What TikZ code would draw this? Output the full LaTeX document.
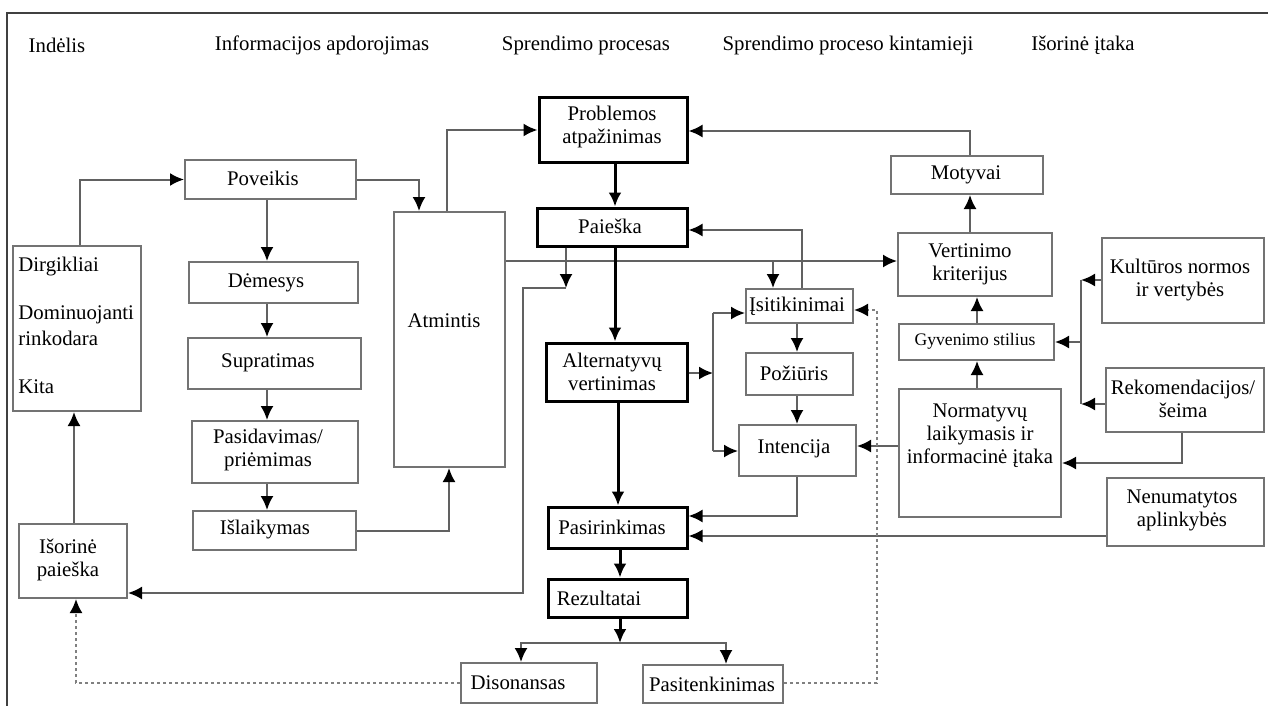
\documentclass[tikz,border=0pt]{standalone}
\usepackage{fontspec}
\setmainfont{Liberation Serif}
\usetikzlibrary{arrows.meta,fit}
\begin{document}
\begin{tikzpicture}[x=0.5pt,y=-0.5pt,
  font=\fontsize{10.4}{11.5}\selectfont,
  box/.style={draw=black!55, line width=1pt, inner sep=0pt, rectangle},
  tbox/.style={draw=black, line width=1.5pt, inner sep=0pt, rectangle},
  lbl/.style={inner sep=0pt, align=center},
  lbll/.style={inner sep=0pt, anchor=west},
  tip/.style={-{Latex[length=7pt,width=6.5pt,color=black]}},
  con/.style={draw=black!62, line width=1pt, tip},
  plain/.style={draw=black!62, line width=1pt},
  tcon/.style={draw=black, line width=1.5pt, -{Latex[length=7pt,width=6.5pt]}},
  dot/.style={draw=black!50, line width=1pt, dash pattern=on 1.6pt off 1.4pt, tip},
]
\useasboundingbox (0,0) rectangle (1268,706);
% frame
\draw[black!75, line width=1pt] (7,706) -- (7,13) -- (1268,13);

% headers
\node[lbl] (h1) at (57,45) {Indėlis};
\node[lbl] (h2) at (322,45) {Informacijos apdorojimas};
\node[lbl] (h3) at (586,45) {Sprendimo procesas};
\node[lbl] (h4) at (848,45) {Sprendimo proceso kintamieji};
\node[lbl] (h5) at (1083,45) {Išorinė įtaka};

% boxes
\node[box, fit={(13,246) (141,411)}] (dirg) {};
\node[box, fit={(19,524) (127,598)}] (isp) {};
\node[box, fit={(185,160) (356,199)}] (pov) {};
\node[box, fit={(189,262) (358,303)}] (dem) {};
\node[box, fit={(188,338) (361,389)}] (sup) {};
\node[box, fit={(192,421) (358,483)}] (pas) {};
\node[box, fit={(193,511) (356,550)}] (isl) {};
\node[box, fit={(394,212) (505,467)}] (atm) {};
\node[tbox, fit={(539,98) (687,162)}] (prob) {};
\node[tbox, fit={(537,208) (687,246)}] (pai) {};
\node[tbox, fit={(546,343) (687,401)}] (alt) {};
\node[tbox, fit={(548,507) (687,548)}] (pasir) {};
\node[tbox, fit={(548,579) (687,617)}] (rez) {};
\node[box, fit={(461,663) (597,703)}] (dis) {};
\node[box, fit={(643,665) (783,703)}] (pst) {};
\node[box, fit={(746,289) (853,323)}] (isit) {};
\node[box, fit={(746,353) (853,395)}] (poz) {};
\node[box, fit={(739,425) (856,476)}] (int) {};
\node[box, fit={(891,156) (1043,194)}] (mot) {};
\node[box, fit={(898,233) (1052,296)}] (vert) {};
\node[box, fit={(899,324) (1054,360)}] (gyv) {};
\node[box, fit={(899,389) (1061,517)}] (norm) {};
\node[box, fit={(1102,238) (1264,323)}] (kult) {};
\node[box, fit={(1106,368) (1264,432)}] (rek) {};
\node[box, fit={(1107,478) (1264,546)}] (nen) {};

% texts
\node[lbll] (t1) at (18,267) {Dirgikliai};
\node[lbll] (t2) at (18,315) {Dominuojanti};
\node[lbll] (t3) at (18,338) {rinkodara};
\node[lbll] (t4) at (18,387) {Kita};
\node[lbl] (t5) at (68,560) {Išorinė\\paieška};
\node[lbl] (t6) at (263,178) {Poveikis};
\node[lbl] (t7) at (266,283) {Dėmesys};
\node[lbl] (t8) at (268,363) {Supratimas};
\node[lbl] (t9) at (268,450) {Pasidavimas/\\priėmimas};
\node[lbl] (t10) at (265,530) {Išlaikymas};
\node[lbl] (t11) at (444,321) {Atmintis};
\node[lbl] (t12) at (612,127) {Problemos\\atpažinimas};
\node[lbl] (t13) at (610,226) {Paieška};
\node[lbl] (t14) at (612,372) {Alternatyvų\\vertinimas};
\node[lbl] (t15) at (612,527) {Pasirinkimas};
\node[lbl] (t16) at (599,598) {Rezultatai};
\node[lbl] (t17) at (518,683) {Disonansas};
\node[lbl] (t18) at (712,684) {Pasitenkinimas};
\node[lbl] (t19) at (797,306) {Įsitikinimai};
\node[lbl] (t20) at (794,373) {Požiūris};
\node[lbl] (t21) at (794,449) {Intencija};
\node[lbl] (t22) at (966,175) {Motyvai};
\node[lbl] (t23) at (970,264) {Vertinimo\\kriterijus};
\node[lbl, font=\fontsize{8.8}{10}\selectfont] (t24) at (975,341) {Gyvenimo stilius};
\node[lbl] (t25) at (980,436) {Normatyvų\\laikymasis ir\\informacinė įtaka};
\node[lbl] (t26) at (1180,280) {Kultūros normos\\ir vertybės};
\node[lbl] (t27) at (1183,399) {Rekomendacijos/\\šeima};
\node[lbl] (t28) at (1182,510) {Nenumatytos\\aplinkybės};

% helper coordinates
\coordinate (cx) at (267,0);
\coordinate (ax1) at (419,0);
\coordinate (ax2) at (449,0);
\coordinate (ax3) at (447,0);
\coordinate (ay) at (0,261);
\coordinate (br1) at (773,261);
\coordinate (p1) at (566,288);
\coordinate (p2) at (523,288);
\coordinate (p3) at (523,593);
\coordinate (q1) at (802,230);
\coordinate (mx) at (615,0);
\coordinate (mx2) at (618,0);
\coordinate (mx3) at (620,0);
\coordinate (r1) at (620,643);
\coordinate (r2) at (521,643);
\coordinate (r3) at (726,643);
\coordinate (a1) at (713,373);
\coordinate (a2) at (713,313);
\coordinate (a3) at (713,451);
\coordinate (sx) at (797,0);
\coordinate (i1) at (797,516);
\coordinate (n1) at (0,536);
\coordinate (n2) at (0,446);
\coordinate (m1) at (970,131);
\coordinate (gx) at (977,0);
\coordinate (k1) at (1081,280);
\coordinate (k2) at (1081,404);
\coordinate (k3) at (1081,342);
\coordinate (k4) at (1182,463);
\coordinate (d1) at (877,683);
\coordinate (d2) at (877,310);
\coordinate (d3) at (76,683);
\coordinate (dx) at (80,0);
\coordinate (ix) at (74,0);

% left side
\draw[con] (dirg.north -| dx) -- (pov.west -| dx) -- (pov.west);
\draw[con] (isp.north -| ix) -- (dirg.south -| ix);
\draw[con] (pov.south -| cx) -- (dem.north -| cx);
\draw[con] (dem.south -| cx) -- (sup.north -| cx);
\draw[con] (sup.south -| cx) -- (pas.north -| cx);
\draw[con] (pas.south -| cx) -- (isl.north -| cx);
\draw[con] (pov.east) -- (pov.east -| ax1) -- (atm.north -| ax1);
\draw[con] (isl.east) -- (isl.east -| ax2) -- (atm.south -| ax2);
\draw[con] (atm.north -| ax3) -- (prob.west -| ax3) -- (prob.west);
\draw[con] (atm.east |- ay) -- (vert.west |- ay);
\draw[con] (br1) -- (br1 |- isit.north);
\draw[con] (pai.south -| p1) -- (p1);
\draw[con] (p1) -- (p2) -- (p3) -- (p3 -| isp.east);
\draw[con] (isit.north -| q1) -- (q1) -- (q1 -| pai.east);

% central column
\draw[tcon] (prob.south -| mx) -- (pai.north -| mx);
\draw[tcon] (pai.south -| mx) -- (alt.north -| mx);
\draw[tcon] (alt.south -| mx2) -- (pasir.north -| mx2);
\draw[tcon] (pasir.south -| mx3) -- (rez.north -| mx3);
\draw[tcon] (rez.south -| mx3) -- (r1);
\draw[con] (r1) -- (r2) -- (r2 |- dis.north);
\draw[con] (r1) -- (r3) -- (r3 |- pst.north);

% decision variables
\draw[con] (alt.east |- a1) -- (a1);
\draw[plain] (a2) -- (a3);
\draw[con] (a2) -- (a2 -| isit.west);
\draw[con] (a3) -- (a3 -| int.west);
\draw[con] (isit.south -| sx) -- (poz.north -| sx);
\draw[con] (poz.south -| sx) -- (int.north -| sx);
\draw[con] (int.south -| i1) -- (i1) -- (i1 -| pasir.east);
\draw[con] (nen.west |- n1) -- (n1 -| pasir.east);
\draw[con] (norm.west |- n2) -- (int.east |- n2);

% right side
\draw[con] (mot.north -| m1) -- (m1) -- (m1 -| prob.east);
\draw[con] (vert.north -| m1) -- (mot.south -| m1);
\draw[con] (gyv.north -| gx) -- (vert.south -| gx);
\draw[con] (norm.north -| gx) -- (gyv.south -| gx);
\draw[con] (kult.west |- k1) -- (k1);
\draw[con] (rek.west |- k2) -- (k2);
\draw[plain] (k1) -- (k2);
\draw[con] (k3) -- (k3 -| gyv.east);
\draw[con] (rek.south -| k4) -- (k4) -- (k4 -| norm.east);

% dotted feedback
\draw[dot] (pst.east |- d1) -- (d1) -- (d2) -- (d2 -| isit.east);
\draw[dot] (dis.west |- d3) -- (d3) -- (d3 |- isp.south);
\end{tikzpicture}
\end{document}
